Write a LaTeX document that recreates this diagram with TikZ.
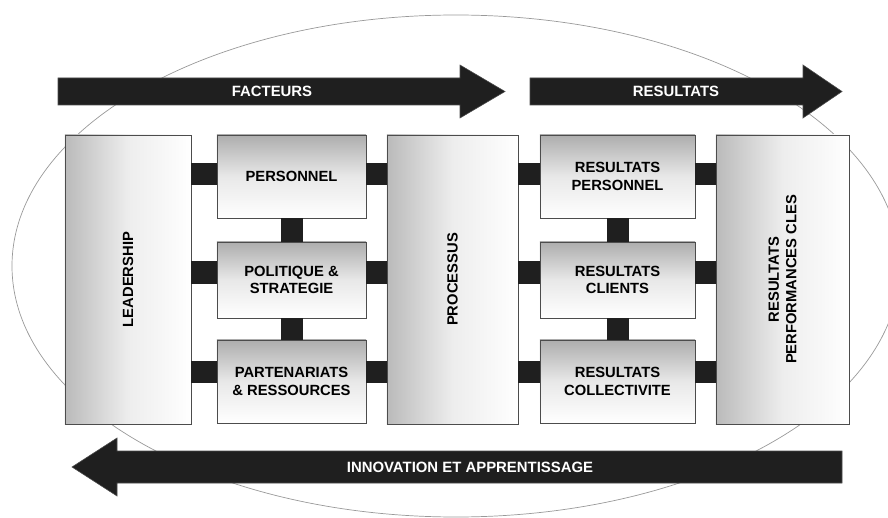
\documentclass[tikz,border=0pt]{standalone}
\usepackage{fontspec}
\setmainfont{Liberation Sans}

\tikzset{
  tallbox/.style={draw=black!70, line width=0.6pt, left color=black!27, right color=white, middle color=black!7, minimum height=7.225cm, inner sep=0pt},
  smallbox/.style={draw=black!70, line width=0.6pt, top color=black!32, bottom color=white, middle color=black!9, align=center, inner sep=0pt,
    font=\bfseries\fontsize{10.5}{12.5}\selectfont},
  boxtext/.style={rotate=90, align=center, font=\bfseries\fontsize{10.5}{12.5}\selectfont},
  link/.style={draw=black!88, line width=0.55cm},
  bigarrow/.style={fill=black!88, draw=black!70, line width=0.4pt},
  arrowtext/.style={text=white, font=\bfseries\fontsize{10.6}{12}\selectfont}
}

\begin{document}
\begin{tikzpicture}[x=0.025cm, y=-0.025cm]
    % Frame of the page, the ellipse runs past the right edge
    \useasboundingbox (0,0) rectangle (888,518);
    \clip (0,0) rectangle (888,518);

    % Draw the ellipse behind everything
    \draw[black!40, line width=0.5pt] (456,266) ellipse [x radius=444, y radius=251];

    % Arrows along the top
    \filldraw[bigarrow] (58,78) -- (460,78) -- (460,65) -- (505,91.5) -- (460,118) -- (460,105) -- (58,105) -- cycle;
    \node[arrowtext] (fact) at (272,91.5) {FACTEURS};
    \filldraw[bigarrow] (530,78) -- (803,78) -- (803,65) -- (842,91.5) -- (803,118) -- (803,105) -- (530,105) -- cycle;
    \node[arrowtext] (res) at (676,91.5) {RESULTATS};

    % Arrow along the bottom, pointing back
    \filldraw[bigarrow] (842,451) -- (117,451) -- (117,438) -- (72,467) -- (117,496) -- (117,483) -- (842,483) -- cycle;
    \node[arrowtext] (innov) at (470,467) {INNOVATION ET APPRENTISSAGE};

    % Tall boxes
    \node[tallbox, minimum width=3.15cm] (lead) at (128,279.5) {};
    \node[boxtext] (leadtxt) at (lead) {LEADERSHIP};
    \node[tallbox, minimum width=3.275cm] (proc) at (452.5,279.5) {};
    \node[boxtext] (proctxt) at (proc) {PROCESSUS};
    \node[tallbox, minimum width=3.325cm] (perf) at (782.5,279.5) {};
    \node[boxtext] (perftxt) at (perf) {RESULTATS\\PERFORMANCES CLES};

    % Enablers
    \node[smallbox, minimum width=3.725cm, minimum height=2.075cm] (pers) at (291.5,176.5) {PERSONNEL};
    \node[smallbox, minimum width=3.725cm, minimum height=1.9cm] (pol) at (291.5,280) {POLITIQUE \&\\STRATEGIE};
    \node[smallbox, minimum width=3.725cm, minimum height=2.075cm] (part) at (291.5,381.5) {PARTENARIATS\\\& RESSOURCES};

    % Results
    \node[smallbox, minimum width=3.875cm, minimum height=2.075cm] (rpers) at (617.5,176.5) {RESULTATS\\PERSONNEL};
    \node[smallbox, minimum width=3.875cm, minimum height=1.9cm] (rcli) at (617.5,280) {RESULTATS\\CLIENTS};
    \node[smallbox, minimum width=3.875cm, minimum height=2.075cm] (rcol) at (617.5,381.5) {RESULTATS\\COLLECTIVITE};

    % Black bars joining the boxes
    \coordinate (r1) at (0,174);
    \coordinate (r2) at (0,272.5);
    \coordinate (r3) at (0,372);
    \foreach \row/\mid/\out in {r1/pers/rpers, r2/pol/rcli, r3/part/rcol} {
        \draw[link] (lead.east |- \row) -- (\mid.west |- \row);
        \draw[link] (\mid.east |- \row) -- (proc.west |- \row);
        \draw[link] (proc.east |- \row) -- (\out.west |- \row);
        \draw[link] (\out.east |- \row) -- (perf.west |- \row);
    }
    \draw[link] (pers.south) -- (pol.north);
    \draw[link] (pol.south) -- (part.north);
    \draw[link] (rpers.south) -- (rcli.north);
    \draw[link] (rcli.south) -- (rcol.north);

\end{tikzpicture}
\end{document}
